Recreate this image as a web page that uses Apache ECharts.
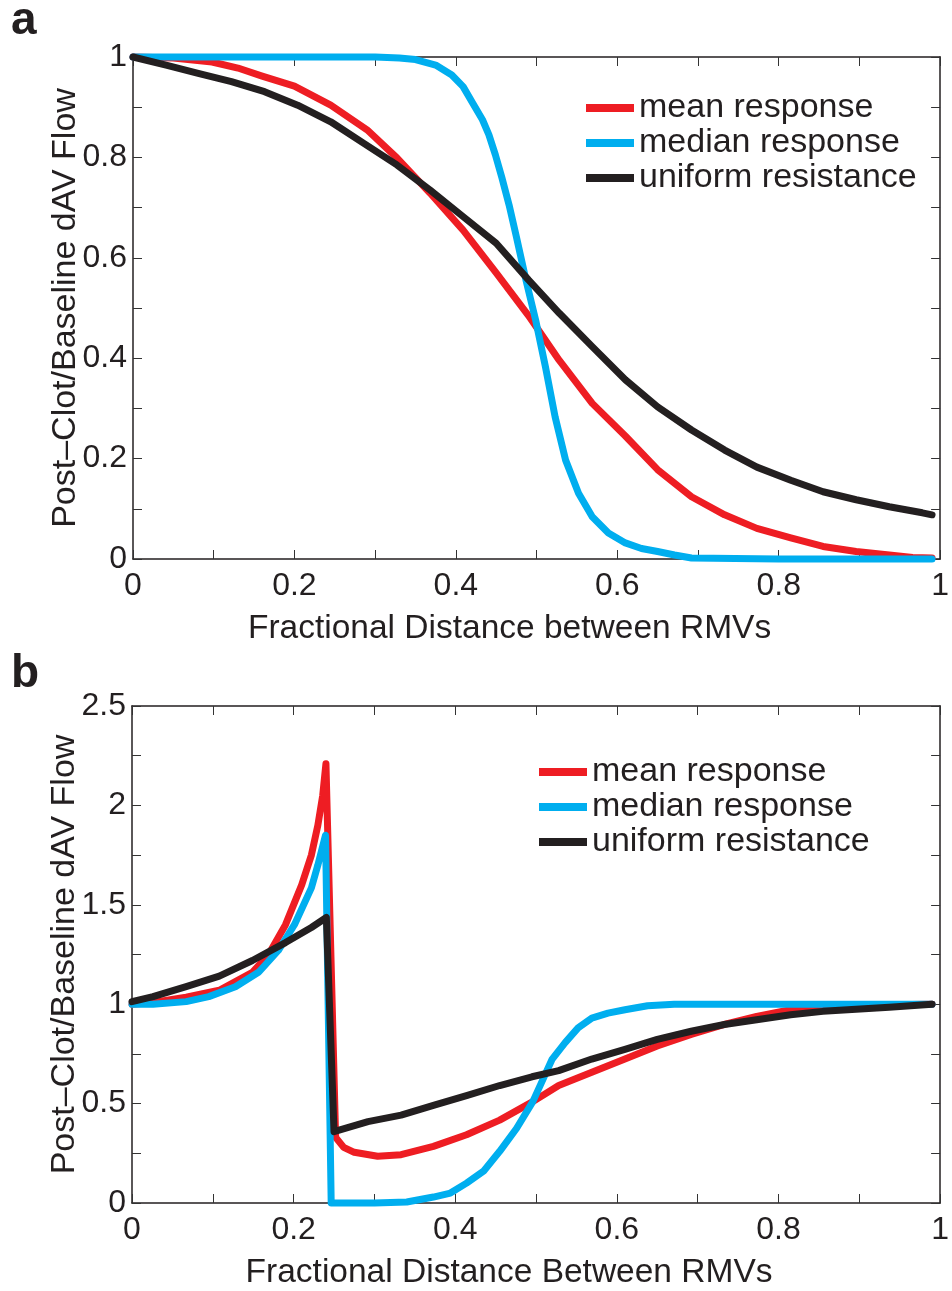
<!DOCTYPE html>
<html>
<head>
<meta charset="utf-8">
<script src="https://cdn.jsdelivr.net/npm/echarts@6/dist/echarts.min.js"></script>
<style>
html,body{margin:0;padding:0;background:#fff;}
#chart{width:952px;height:1291px;}
</style>
</head>
<body>
<div id="chart"></div>
<script>
// ---------- Data ----------
const seriesNames = ['mean response', 'median response', 'uniform resistance'];

// Panel a
const xA_mean = [0, 0.05, 0.098, 0.13, 0.16, 0.20, 0.245, 0.29, 0.327, 0.368, 0.409, 0.45, 0.49, 0.528, 0.569, 0.61, 0.65, 0.692, 0.733, 0.773, 0.815, 0.855, 0.896, 0.937, 0.966, 0.99];
const yA_mean = [1.0, 0.998, 0.99, 0.978, 0.962, 0.942, 0.904, 0.855, 0.799, 0.729, 0.655, 0.57, 0.485, 0.396, 0.31, 0.245, 0.178, 0.124, 0.088, 0.061, 0.042, 0.025, 0.015, 0.008, 0.003, 0.002];

const xA_med = [0, 0.1, 0.2, 0.3, 0.33, 0.35, 0.375, 0.395, 0.409, 0.421, 0.433, 0.441, 0.449, 0.457, 0.466, 0.475, 0.487, 0.499, 0.511, 0.523, 0.536, 0.552, 0.569, 0.589, 0.61, 0.63, 0.65, 0.671, 0.692, 0.8, 0.9, 0.99];
const yA_med = [1, 1, 1, 1, 0.998, 0.995, 0.984, 0.964, 0.941, 0.908, 0.875, 0.845, 0.805, 0.76, 0.705, 0.642, 0.555, 0.475, 0.383, 0.283, 0.197, 0.131, 0.084, 0.052, 0.032, 0.021, 0.015, 0.008, 0.002, 0, 0, 0];

const xA_uni = [0, 0.041, 0.082, 0.122, 0.163, 0.204, 0.245, 0.286, 0.327, 0.368, 0.409, 0.45, 0.49, 0.528, 0.569, 0.61, 0.65, 0.692, 0.733, 0.773, 0.815, 0.855, 0.896, 0.937, 0.978, 0.99];
const yA_uni = [1.0, 0.984, 0.967, 0.951, 0.931, 0.904, 0.871, 0.828, 0.785, 0.735, 0.682, 0.629, 0.556, 0.49, 0.423, 0.357, 0.303, 0.257, 0.217, 0.183, 0.157, 0.134, 0.118, 0.104, 0.092, 0.088];

// Panel b
const xB_mean = [0, 0.026, 0.067, 0.108, 0.149, 0.169, 0.19, 0.21, 0.222, 0.23, 0.236, 0.24, 0.252, 0.262, 0.275, 0.304, 0.333, 0.373, 0.414, 0.455, 0.496, 0.528, 0.569, 0.61, 0.65, 0.692, 0.733, 0.773, 0.815, 0.855, 0.896, 0.937, 0.99];
const yB_mean = [1.0, 1.009, 1.035, 1.07, 1.16, 1.25, 1.40, 1.60, 1.75, 1.90, 2.05, 2.21, 0.33, 0.28, 0.255, 0.235, 0.243, 0.285, 0.343, 0.417, 0.51, 0.591, 0.658, 0.724, 0.79, 0.848, 0.898, 0.939, 0.972, 0.98, 0.989, 0.997, 1.0];

const xB_med = [0, 0.026, 0.067, 0.095, 0.128, 0.157, 0.181, 0.201, 0.222, 0.23, 0.2395, 0.2465, 0.3, 0.34, 0.373, 0.394, 0.414, 0.435, 0.455, 0.476, 0.496, 0.507, 0.52, 0.536, 0.552, 0.569, 0.589, 0.61, 0.638, 0.671, 0.8, 0.99];
const yB_med = [1.0, 1.0, 1.013, 1.038, 1.088, 1.162, 1.27, 1.40, 1.585, 1.70, 1.85, 0, 0, 0.005, 0.03, 0.05, 0.10, 0.16, 0.26, 0.376, 0.51, 0.608, 0.724, 0.807, 0.881, 0.93, 0.955, 0.972, 0.992, 1.0, 1.0, 1.0];

const xB_uni = [0, 0.026, 0.067, 0.108, 0.149, 0.19, 0.222, 0.2405, 0.25, 0.292, 0.333, 0.374, 0.415, 0.455, 0.495, 0.528, 0.569, 0.61, 0.65, 0.692, 0.733, 0.773, 0.815, 0.855, 0.896, 0.937, 0.99];
const yB_uni = [1.013, 1.038, 1.088, 1.141, 1.22, 1.31, 1.386, 1.436, 0.359, 0.409, 0.442, 0.492, 0.541, 0.591, 0.635, 0.666, 0.724, 0.773, 0.823, 0.864, 0.898, 0.922, 0.947, 0.964, 0.975, 0.985, 1.0];

const xAxisNameA = 'Fractional Distance between RMVs';
const xAxisNameB = 'Fractional Distance Between RMVs';
const yAxisName = 'Post\u2013Clot/Baseline dAV Flow';

// ---------- Styling ----------
const FONT = '"Liberation Sans", Arial, Helvetica, sans-serif';
const TXT = '#231F20';
const colors = ['#EE1D23', '#00AEEF', '#231F20'];

const pairs = (xs, ys) => xs.map((x, i) => [x, ys[i]]);

function xLabelFmt(v) {
  const k = Math.round(v * 10);
  return k % 2 ? '' : String(+v.toFixed(1));
}
function yLabelFmtA(v) {
  const k = Math.round(v * 10);
  return k % 2 ? '' : String(+v.toFixed(1));
}
function yLabelFmtB(v) {
  const k = Math.round(v * 4);
  return k % 2 ? '' : String(+v.toFixed(2));
}

function mkLine() { return { show: true, onZero: false, lineStyle: { color: TXT, width: 1.5 } }; }
// labelled axes: outward direction with negative length -> ticks point into the plot
function mkTickLabelled() { return { show: true, inside: false, length: -9, lineStyle: { color: '#333', width: 1 } }; }
function mkTickPlain() { return { show: true, inside: true, length: 9, lineStyle: { color: '#333', width: 1 } }; }

function xAx(grid, pos, name, showLabel) {
  return {
    type: 'value', gridIndex: grid, position: pos, min: 0, max: 1, interval: 0.1,
    axisLine: mkLine(), axisTick: showLabel ? mkTickLabelled() : mkTickPlain(), splitLine: { show: false },
    axisLabel: { show: showLabel, formatter: xLabelFmt, margin: 11, fontSize: 32, color: TXT, fontFamily: FONT },
    name: showLabel ? name : '', nameLocation: 'middle', nameGap: 53, nameMoveOverlap: false,
    nameTextStyle: { fontSize: 33.5, color: TXT, fontFamily: FONT, padding: [0, 54, 0, 0] }
  };
}
function yAx(grid, pos, max, interval, fmt, showLabel) {
  return {
    type: 'value', gridIndex: grid, position: pos, min: 0, max: max, interval: interval,
    axisLine: mkLine(), axisTick: showLabel ? mkTickLabelled() : mkTickPlain(), splitLine: { show: false },
    axisLabel: { show: showLabel, formatter: fmt, margin: 6, fontSize: 32, color: TXT, fontFamily: FONT },
    name: showLabel ? yAxisName : '', nameLocation: 'middle', nameGap: 50, nameMoveOverlap: false,
    nameTextStyle: { fontSize: 34, color: TXT, fontFamily: FONT }
  };
}

function line(name, data, xi, yi, color) {
  return {
    name: name, type: 'line', data: data, xAxisIndex: xi, yAxisIndex: yi,
    symbol: 'none', showSymbol: false, clip: false, animation: false,
    lineStyle: { color: color, width: 7, join: 'round', cap: 'round' },
    itemStyle: { color: color }
  };
}

function legendAt(left, top) {
  return {
    left: left, top: top, orient: 'vertical', padding: 0, itemGap: 1,
    itemWidth: 48, itemHeight: 8, icon: 'rect', selectedMode: false,
    data: seriesNames,
    textStyle: { fontSize: 34, color: TXT, fontFamily: FONT }
  };
}

const option = {
  animation: false,
  backgroundColor: '#fff',
  grid: [
    { left: 133, top: 57, width: 815, height: 502 },
    { left: 132, top: 706, width: 816, height: 503 }
  ],
  xAxis: [
    xAx(0, 'bottom', xAxisNameA, true),
    xAx(0, 'top', '', false),
    xAx(1, 'bottom', xAxisNameB, true),
    xAx(1, 'top', '', false)
  ],
  yAxis: [
    yAx(0, 'left', 1, 0.1, yLabelFmtA, true),
    yAx(0, 'right', 1, 0.1, yLabelFmtA, false),
    yAx(1, 'left', 2.5, 0.25, yLabelFmtB, true),
    yAx(1, 'right', 2.5, 0.25, yLabelFmtB, false)
  ],
  legend: [legendAt(586, 91), legendAt(539, 755)],
  graphic: [
    { type: 'text', left: 11, top: -2, style: { text: 'a', font: 'bold 46px ' + FONT, fill: TXT } },
    { type: 'text', left: 11, top: 651, style: { text: 'b', font: 'bold 46px ' + FONT, fill: TXT } }
  ],
  series: [
    line(seriesNames[0], pairs(xA_mean, yA_mean), 0, 0, colors[0]),
    line(seriesNames[1], pairs(xA_med, yA_med), 0, 0, colors[1]),
    line(seriesNames[2], pairs(xA_uni, yA_uni), 0, 0, colors[2]),
    line(seriesNames[0], pairs(xB_mean, yB_mean), 2, 2, colors[0]),
    line(seriesNames[1], pairs(xB_med, yB_med), 2, 2, colors[1]),
    line(seriesNames[2], pairs(xB_uni, yB_uni), 2, 2, colors[2])
  ]
};

const chart = echarts.init(document.getElementById('chart'), null, { renderer: 'canvas' });
chart.setOption(option);
</script>
</body>
</html>
